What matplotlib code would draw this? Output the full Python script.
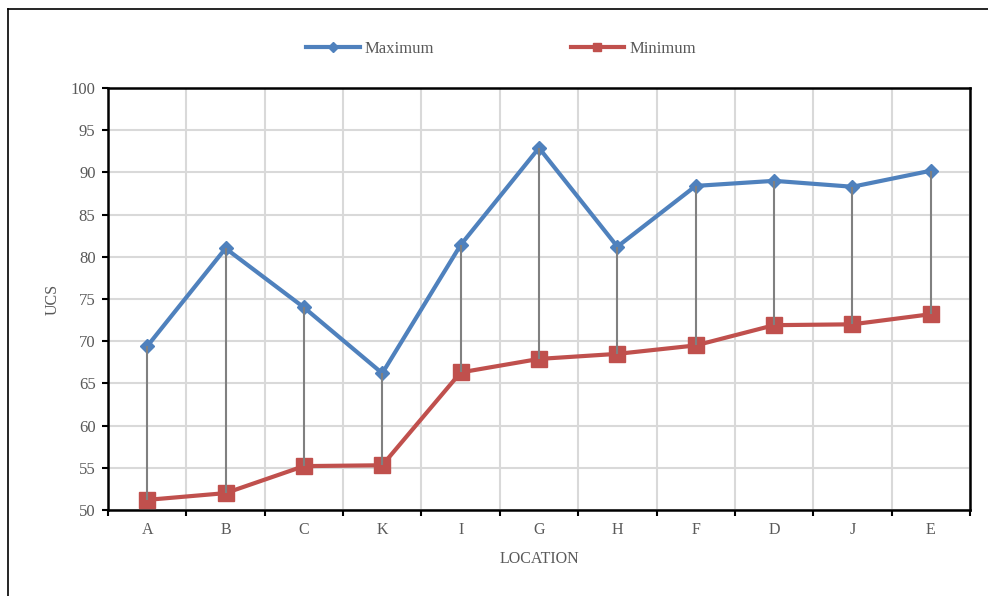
import matplotlib
matplotlib.use("Agg")
import matplotlib.pyplot as plt
from matplotlib.lines import Line2D
import numpy as np

locations = ["A", "B", "C", "K", "I", "G", "H", "F", "D", "J", "E"]
maximum = [69.4, 81.0, 74.0, 66.2, 81.4, 92.9, 81.2, 88.4, 89.0, 88.3, 90.2]
minimum = [51.2, 52.0, 55.2, 55.3, 66.3, 67.9, 68.5, 69.5, 71.9, 72.0, 73.2]
y_ticks = [50, 55, 60, 65, 70, 75, 80, 85, 90, 95, 100]

BLUE = "#4F81BD"
RED = "#C0504D"
GRID = "#D9D9D9"
TEXT = "#595959"

plt.rcParams["font.family"] = ["Liberation Serif", "DejaVu Serif"]

fig = plt.figure(figsize=(9.88, 5.96), dpi=100)
ax = fig.add_axes([108 / 988, 86 / 596, 862 / 988, 422 / 596])

x = np.arange(len(locations))

# high-low drop lines between the two series
ax.vlines(x, minimum, maximum, color="#808080", lw=1.5, zorder=5)

ax.plot(x, maximum, color=BLUE, lw=3, marker="D", ms=7.5, zorder=3)
ax.plot(x, minimum, color=RED, lw=3, marker="s", ms=12, zorder=3)

ax.set_xlim(-0.5, len(locations) - 0.5)
ax.set_ylim(50, 100)
ax.set_yticks(y_ticks)
ax.set_xticks(x)
ax.set_xticklabels(locations)
ax.set_xticks(np.arange(-0.5, len(locations), 1.0), minor=True)

ax.grid(True, which="minor", axis="x", color=GRID, lw=1.5, zorder=0)
ax.grid(True, which="major", axis="y", color=GRID, lw=1.5, zorder=0)
ax.set_axisbelow(True)

ax.tick_params(axis="x", which="major", length=0, pad=9, labelsize=11.5, labelcolor=TEXT)
ax.tick_params(axis="x", which="minor", length=4, width=1.5, direction="out", color="black")
ax.tick_params(axis="y", length=4, width=1.5, direction="out", color="black",
               pad=5, labelsize=12, labelcolor=TEXT)

for s in ax.spines.values():
    s.set_linewidth(1.8)
    s.set_color("black")

ax.set_xlabel("LOCATION", fontsize=11.5, color=TEXT, labelpad=9)
ax.set_ylabel("UCS", fontsize=11.5, color=TEXT, labelpad=7)

handles = [
    Line2D([], [], color=BLUE, lw=3, marker="D", ms=5),
    Line2D([], [], color=RED, lw=3, marker="s", ms=6),
]
fig.legend(handles, ["Maximum", "Minimum"], loc="center", bbox_to_anchor=(501 / 988, 1 - 49 / 596),
           ncol=2, frameon=False, fontsize=12, handlelength=3.2, handletextpad=0.3,
           columnspacing=8.2, labelcolor=TEXT)

# outer chart border (top and left edges)
fig.add_artist(Line2D([8 / 988, 8 / 988], [0, 1 - 9 / 596], color="black", lw=1.2,
                      transform=fig.transFigure))
fig.add_artist(Line2D([8 / 988, 1], [1 - 9 / 596, 1 - 9 / 596], color="black", lw=1.2,
                      transform=fig.transFigure))

fig.savefig("out.png", dpi=100)
